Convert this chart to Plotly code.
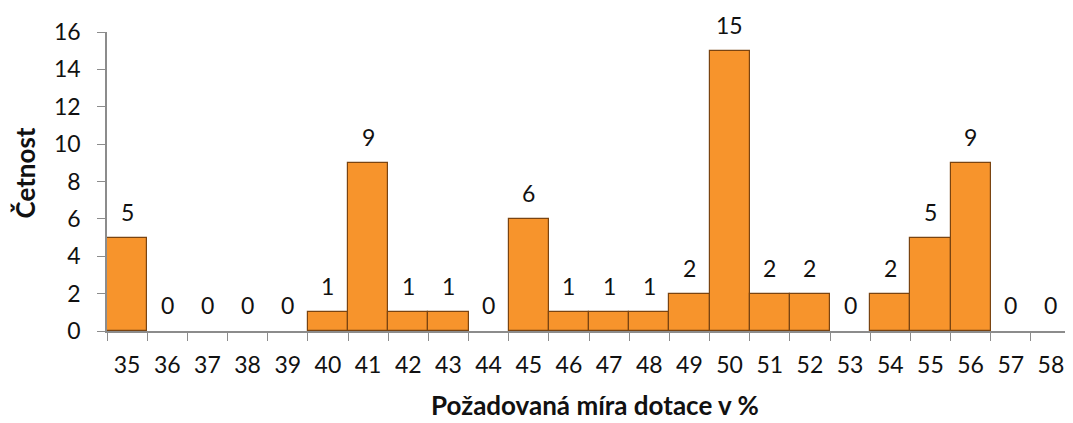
import plotly.graph_objects as go

# Requested subsidy rate (%) and how often it occurred
categories = [str(v) for v in range(35, 59)]
counts = [5, 0, 0, 0, 0, 1, 9, 1, 1, 0, 6, 1, 1, 1, 2, 15, 2, 2, 0, 2, 5, 9, 0, 0]

y_ticks = [0, 2, 4, 6, 8, 10, 12, 14, 16]

x_title = "Požadovaná míra dotace v %"
y_title = "Četnost"

FONT = "Lato, Calibri, sans-serif"
AXIS_GREY = "#8c8c8c"
TEXT = "#111111"

fig = go.Figure()

fig.add_trace(
    go.Bar(
        x=categories,
        y=counts,
        marker=dict(
            color="#f7942c",
            line=dict(
                color="#7a4411",
                width=[1.2 if c > 0 else 0 for c in counts],
            ),
        ),
        hovertemplate="%{x}: %{y}<extra></extra>",
    )
)

# value labels sitting above each bar (x given as category index)
for i, val in enumerate(counts):
    fig.add_annotation(
        x=i,
        y=val,
        xref="x",
        yref="y",
        text=str(val),
        showarrow=False,
        yanchor="bottom",
        yshift=10,
        font=dict(family=FONT, size=23, color=TEXT),
    )

# axis titles placed by hand so they sit where the original has them
fig.add_annotation(
    x=0.5, y=0, xref="paper", yref="paper",
    text=x_title, showarrow=False,
    xanchor="center", yanchor="middle",
    xshift=6, yshift=-74, borderpad=0,
    font=dict(family=FONT, size=26, color=TEXT, weight="bold"),
)
fig.add_annotation(
    x=0, y=0.5, xref="paper", yref="paper",
    text=y_title, showarrow=False, textangle=-90,
    xanchor="center", yanchor="middle",
    xshift=-83, yshift=8, borderpad=0,
    font=dict(family=FONT, size=26, color=TEXT, weight="bold"),
)

# page body has an 8px margin, so the figure is 16px smaller than the window
fig.update_layout(
    width=1065,
    height=415,
    margin=dict(l=99, r=2, t=24, b=92, autoexpand=False),
    paper_bgcolor="white",
    plot_bgcolor="white",
    bargap=0,
    showlegend=False,
    font=dict(family=FONT, size=23, color=TEXT),
)

fig.update_xaxes(
    type="category",
    range=[-0.5, len(categories) - 0.5],
    tickson="boundaries",
    ticks="outside",
    ticklen=8,
    tickcolor=AXIS_GREY,
    ticklabelstandoff=13,
    showline=True,
    linecolor=AXIS_GREY,
    linewidth=1.5,
    showgrid=False,
    automargin=False,
)

fig.update_yaxes(
    range=[0, 16],
    tickvals=y_ticks,
    ticks="outside",
    ticklen=8,
    tickcolor=AXIS_GREY,
    ticklabelstandoff=12,
    showline=True,
    linecolor=AXIS_GREY,
    linewidth=1.5,
    showgrid=False,
    zeroline=False,
    automargin=False,
)

fig.write_html("out.html")
